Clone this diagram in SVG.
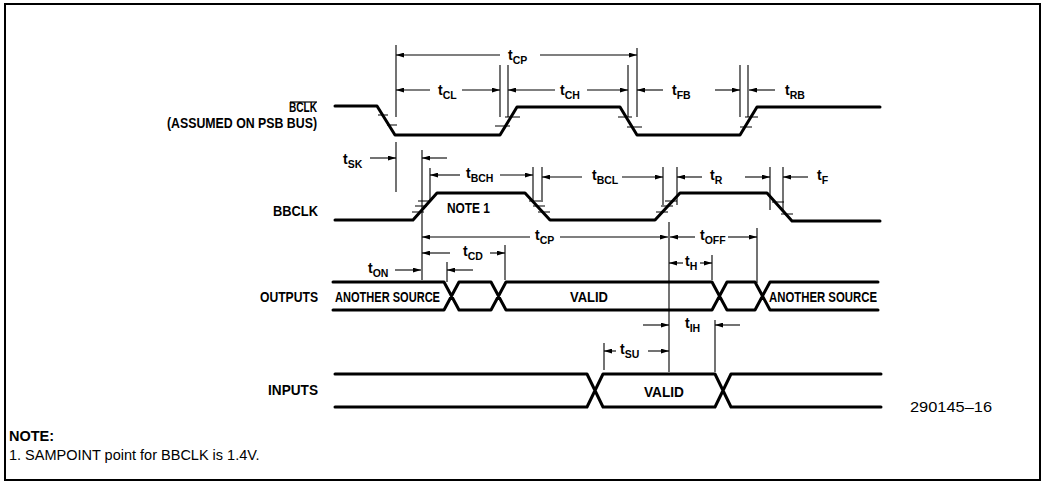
<svg xmlns="http://www.w3.org/2000/svg" width="1045" height="484" viewBox="0 0 1045 484">
<style>
.frame{fill:none;stroke:#000;stroke-width:2}
.sig{fill:none;stroke:#000;stroke-width:3;stroke-linejoin:round;stroke-linecap:round}
.tk{stroke:#000;stroke-width:1.2}
.dim{stroke:#000;stroke-width:1.1;fill:none}
.ar{stroke:#000;stroke-width:1.1;fill:none;marker-end:url(#ah)}
.lbl{font-family:"Liberation Sans",Arial,sans-serif;font-weight:bold;font-size:14px;fill:#000}
.t{font-family:"Liberation Sans",Arial,sans-serif;font-weight:bold;font-size:14px;fill:#000}
.s{font-size:10.5px}
.note{font-family:"Liberation Sans",Arial,sans-serif;font-size:14.5px;fill:#000}
</style>
<defs>
<marker id="ah" viewBox="0 0 10 6" refX="10" refY="3" markerWidth="8" markerHeight="5" markerUnits="userSpaceOnUse" orient="auto"><path d="M0,0 L10,3 L0,6 z" fill="#000"/></marker>
</defs>
<rect class="frame" x="5" y="4" width="1035" height="476"/>

<g id="bclk">
<path class="sig" d="M335,106 L377,106 L395,135 L500,135 L517,107 L620,107 L637,135 L740,135 L757,107 L880,107"/>
<path class="tk" d="M378,115H388 M387,125H397 M505,117H520 M495,126H510 M618,117H632 M627,127H642 M745,117H758 M740,127H752"/>
<text class="lbl" x="317" y="112" font-size="12" text-anchor="end" textLength="28" lengthAdjust="spacingAndGlyphs">BCLK</text>
<line x1="290" y1="102" x2="317" y2="102" stroke="#000" stroke-width="1.2"/>
<text class="lbl" x="317" y="128" font-size="13" text-anchor="end" textLength="150" lengthAdjust="spacingAndGlyphs">(ASSUMED ON PSB BUS)</text>
</g>

<g id="bbclk">
<path class="sig" d="M335,220 L413,220 L437,193 L525,193 L550,220 L655,220 L680,193 L767,193 L792,221 L880,221"/>
<path class="tk" d="M418,201H430 M415,206H427 M412,212H424 M529,201H541 M533,206H545 M538,212H550 M665,201H677 M661,206H673 M656,212H668 M772,202H784 M781,214H793"/>
<text class="lbl" x="318" y="216" text-anchor="end" textLength="45" lengthAdjust="spacingAndGlyphs">BBCLK</text>
<text class="lbl" x="447" y="213" textLength="43" lengthAdjust="spacingAndGlyphs">NOTE 1</text>
</g>

<g id="outputs">
<path class="sig" d="M333,282 L444,282 L459,310 M333,310 L444,310 L459,282 L491,282 L506,310 L712,310 L727,282 L755,282 L770,310 L878,310 M459,310 L491,310 L506,282 L712,282 L727,310 L755,310 L770,282 L878,282"/>
<text class="lbl" x="318" y="302" text-anchor="end" textLength="58" lengthAdjust="spacingAndGlyphs">OUTPUTS</text>
<text class="lbl" x="335" y="302" textLength="105" lengthAdjust="spacingAndGlyphs">ANOTHER SOURCE</text>
<text class="lbl" x="570" y="302" textLength="38" lengthAdjust="spacingAndGlyphs">VALID</text>
<text class="lbl" x="769" y="302" textLength="108" lengthAdjust="spacingAndGlyphs">ANOTHER SOURCE</text>
</g>

<g id="inputs">
<path class="sig" d="M335,374 L587,374 L603,407 L715,407 L731,374 L881,374 M335,407 L587,407 L603,374 L715,374 L731,407 L881,407"/>
<text class="lbl" x="318" y="395" text-anchor="end" textLength="50" lengthAdjust="spacingAndGlyphs">INPUTS</text>
<text class="lbl" x="644" y="397" textLength="40" lengthAdjust="spacingAndGlyphs">VALID</text>
</g>

<g id="connectors">
<path class="dim" d="M396,45V117 M500,65V117 M508,65V117 M628,65V117 M637,48V117 M740,65V117 M748,65V117 M396,142V192 M422,150V280 M430,168V200 M533,167V202 M542,167V202 M663,167V205 M677,167V205 M770,167V210 M783,167V210 M669,222V372 M757,228V283 M505,245V280 M447,262V282 M712,255V280 M715,320V372 M604,343V370"/>
<line class="ar" x1="500" y1="55" x2="396" y2="55"/>
<line class="ar" x1="540" y1="55" x2="637" y2="55"/>
<line class="ar" x1="430" y1="90" x2="396" y2="90"/>
<line class="ar" x1="462" y1="90" x2="500" y2="90"/>
<line class="ar" x1="555" y1="90" x2="508" y2="90"/>
<line class="ar" x1="587" y1="90" x2="628" y2="90"/>
<line class="ar" x1="663" y1="90" x2="637" y2="90"/>
<line class="ar" x1="715" y1="90" x2="740" y2="90"/>
<line class="ar" x1="775" y1="90" x2="749" y2="90"/>
<line class="ar" x1="370" y1="158" x2="396" y2="158"/>
<line class="ar" x1="447" y1="158" x2="422" y2="158"/>
<line class="ar" x1="460" y1="175" x2="430" y2="175"/>
<line class="ar" x1="500" y1="175" x2="533" y2="175"/>
<line class="ar" x1="582" y1="177" x2="542" y2="177"/>
<line class="ar" x1="622" y1="177" x2="663" y2="177"/>
<line class="ar" x1="702" y1="177" x2="677" y2="177"/>
<line class="ar" x1="745" y1="177" x2="770" y2="177"/>
<line class="ar" x1="808" y1="177" x2="783" y2="177"/>
<line class="ar" x1="530" y1="237" x2="422" y2="237"/>
<line class="ar" x1="560" y1="237" x2="668" y2="237"/>
<line class="ar" x1="695" y1="237" x2="670" y2="237"/>
<line class="ar" x1="728" y1="237" x2="757" y2="237"/>
<line class="ar" x1="450" y1="253" x2="422" y2="253"/>
<line class="ar" x1="490" y1="253" x2="505" y2="253"/>
<line class="ar" x1="395" y1="270" x2="421" y2="270"/>
<line class="ar" x1="473" y1="270" x2="447" y2="270"/>
<line class="ar" x1="683" y1="263" x2="669" y2="263"/>
<line class="ar" x1="700" y1="263" x2="712" y2="263"/>
<line class="ar" x1="643" y1="325" x2="669" y2="325"/>
<line class="ar" x1="740" y1="325" x2="715" y2="325"/>
<line class="ar" x1="616" y1="351" x2="604" y2="351"/>
<line class="ar" x1="648" y1="351" x2="669" y2="351"/>
</g>

<g id="timing-labels">
<text class="t" x="508" y="60">t<tspan class="s" dy="4">CP</tspan></text>
<text class="t" x="438" y="95">t<tspan class="s" dy="4">CL</tspan></text>
<text class="t" x="560" y="95">t<tspan class="s" dy="4">CH</tspan></text>
<text class="t" x="672" y="95">t<tspan class="s" dy="4">FB</tspan></text>
<text class="t" x="785" y="95">t<tspan class="s" dy="4">RB</tspan></text>
<text class="t" x="343" y="164">t<tspan class="s" dy="4">SK</tspan></text>
<text class="t" x="466" y="178">t<tspan class="s" dy="4">BCH</tspan></text>
<text class="t" x="592" y="180">t<tspan class="s" dy="4">BCL</tspan></text>
<text class="t" x="710" y="180">t<tspan class="s" dy="4">R</tspan></text>
<text class="t" x="817" y="180">t<tspan class="s" dy="4">F</tspan></text>
<text class="t" x="535" y="240">t<tspan class="s" dy="4">CP</tspan></text>
<text class="t" x="700" y="240">t<tspan class="s" dy="4">OFF</tspan></text>
<text class="t" x="463" y="256">t<tspan class="s" dy="4">CD</tspan></text>
<text class="t" x="368" y="273">t<tspan class="s" dy="4">ON</tspan></text>
<text class="t" x="685" y="266">t<tspan class="s" dy="4">H</tspan></text>
<text class="t" x="685" y="328">t<tspan class="s" dy="4">IH</tspan></text>
<text class="t" x="620" y="354">t<tspan class="s" dy="4">SU</tspan></text>
</g>

<g id="notes">
<text class="note" x="910" y="412" textLength="82" lengthAdjust="spacingAndGlyphs">290145–16</text>
<text class="note" x="9" y="441" font-weight="bold">NOTE:</text>
<text class="note" x="9" y="460">1. SAMPOINT point for BBCLK is 1.4V.</text>
</g>
</svg>
